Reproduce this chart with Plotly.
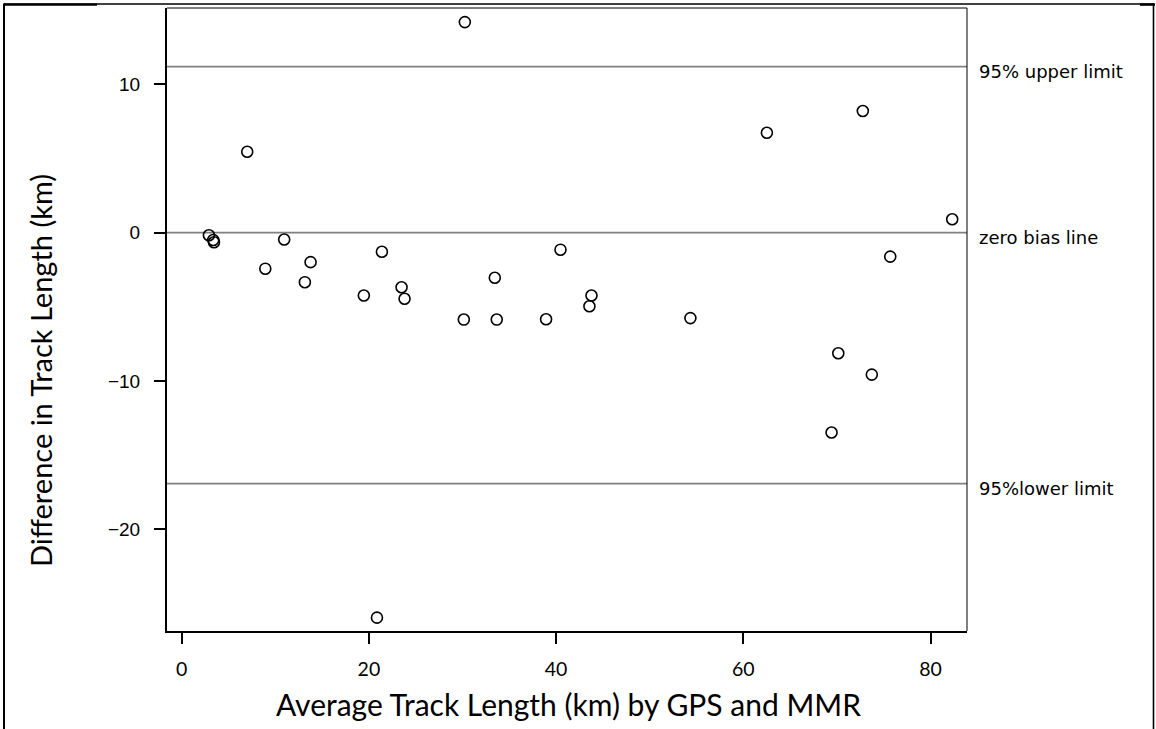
import plotly.graph_objects as go

# Bland-Altman style comparison of GPS and MMR track lengths
avg_length = [30.25, 7.0, 2.91, 3.37, 3.45, 10.95, 8.93, 13.77, 13.16, 21.39,
              19.46, 23.49, 23.81, 20.86, 30.14, 33.45, 33.66, 38.93, 40.47,
              43.78, 43.56, 54.35, 62.52, 72.77, 82.32, 75.7, 70.15, 73.73, 69.43]
diff_length = [14.19, 5.45, -0.18, -0.5, -0.65, -0.46, -2.43, -1.99, -3.34, -1.29,
               -4.24, -3.68, -4.46, -25.95, -5.86, -3.04, -5.86, -5.84, -1.15,
               -4.24, -4.96, -5.76, 6.73, 8.2, 0.9, -1.62, -8.13, -9.57, -13.47]

ref_values = [11.19, 0.0, -16.92]
ref_labels = ["95% upper limit", "zero bias line", "95%lower limit"]

y_ticks = [10, 0, -10, -20]
y_tick_text = ["10", "0", "\u221210", "\u221220"]
x_ticks = [0, 20, 40, 60, 80]

x_title = "Average Track Length (km) by GPS and MMR"
y_title = "Difference in Track Length (km)"

W, H = 1156, 729
ML, MR, MT, MB = 167, 189, 8, 98
pw = W - ML - MR
ph = H - MT - MB


def px_x(p):
    return (p - ML) / pw


def px_y(p):
    return (H - MB - p) / ph


fig = go.Figure()

fig.add_trace(go.Scatter(
    x=avg_length, y=diff_length, mode="markers",
    marker=dict(symbol="circle-open", size=11, color="black",
                line=dict(color="black", width=1.6)),
    showlegend=False, hoverinfo="x+y",
))

shapes = []
annotations = []
for v, lab in zip(ref_values, ref_labels):
    shapes.append(dict(type="line", xref="paper", yref="y", x0=0, x1=1, y0=v, y1=v,
                       line=dict(color="#808080", width=1.6), layer="below"))
    annotations.append(dict(xref="paper", yref="y", x=1, y=v, xanchor="left",
                            yanchor="middle", xshift=10, yshift=-5, showarrow=False,
                            text=lab, font=dict(family="DejaVu Sans", size=18,
                                                color="black")))

# axis titles
annotations.append(dict(xref="paper", yref="paper", x=px_x(568), y=px_y(704),
                        xanchor="center", yanchor="middle", showarrow=False,
                        text=x_title,
                        font=dict(family="Lato", size=30, color="black")))
annotations.append(dict(xref="paper", yref="paper", x=px_x(40), y=px_y(371),
                        xanchor="center", yanchor="middle", showarrow=False,
                        textangle=-90, text=y_title,
                        font=dict(family="Lato", size=29, color="black")))

# top and right frame of the plotting area
shapes.append(dict(type="line", xref="paper", yref="paper", x0=0, x1=1, y0=1, y1=1,
                   line=dict(color="black", width=1)))
shapes.append(dict(type="line", xref="paper", yref="paper", x0=1, x1=1, y0=0, y1=1,
                   line=dict(color="black", width=1)))

# outer border around the figure
shapes.append(dict(type="line", xref="paper", yref="paper",
                   x0=px_x(4), x1=px_x(1154), y0=px_y(4), y1=px_y(4),
                   line=dict(color="black", width=1.5)))
shapes.append(dict(type="line", xref="paper", yref="paper",
                   x0=px_x(4), x1=px_x(97), y0=px_y(4.6), y1=px_y(4.6),
                   line=dict(color="black", width=2.4)))
shapes.append(dict(type="line", xref="paper", yref="paper",
                   x0=px_x(1140), x1=px_x(1155), y0=px_y(4.6), y1=px_y(4.6),
                   line=dict(color="black", width=2.4)))
shapes.append(dict(type="line", xref="paper", yref="paper",
                   x0=px_x(4), x1=px_x(4), y0=px_y(3.5), y1=px_y(729),
                   line=dict(color="black", width=2)))
shapes.append(dict(type="line", xref="paper", yref="paper",
                   x0=px_x(1153.5), x1=px_x(1153.5), y0=px_y(3.5), y1=px_y(729),
                   line=dict(color="black", width=1.6)))

fig.update_layout(
    width=W, height=H,
    margin=dict(l=ML, r=MR, t=MT, b=MB, pad=0),
    paper_bgcolor="white", plot_bgcolor="white",
    shapes=shapes, annotations=annotations,
    xaxis=dict(range=[-1.57, 83.9], tickvals=x_ticks, ticks="outside", ticklen=11,
               tickwidth=1.5, tickcolor="black", showgrid=False, zeroline=False,
               showline=True, linecolor="black", linewidth=2,
               tickfont=dict(family="Lato", size=19.5, color="black"),
               ticklabelstandoff=9),
    yaxis=dict(range=[-26.85, 15.14], tickvals=y_ticks, ticktext=y_tick_text,
               ticks="outside", ticklen=11, tickwidth=1.5, tickcolor="black",
               showgrid=False, zeroline=False, showline=True, linecolor="black",
               linewidth=2, ticklabelstandoff=10,
               tickfont=dict(family="Liberation Sans", size=19, color="black")),
)

fig.write_html("out.html")
